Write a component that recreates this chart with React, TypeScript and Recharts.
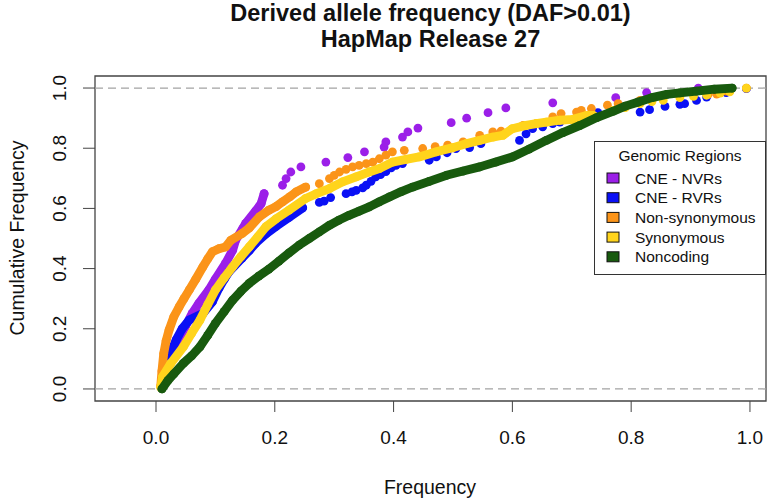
import { ScatterChart, Scatter, XAxis, YAxis, ReferenceArea, ReferenceLine, Legend, Label } from 'recharts';

const FONT = '"Liberation Sans", Arial, Helvetica, sans-serif';

const xTicks = [0, 0.2, 0.4, 0.6, 0.8, 1.0];
const yTicks = [0, 0.2, 0.4, 0.6, 0.8, 1.0];

const seriesNames = ['CNE - NVRs', 'CNE - RVRs', 'Non-synonymous', 'Synonymous', 'Noncoding'];
const seriesColors = ['#9b1fe8', '#0a10f5', '#fb9419', '#ffd41c', '#185a0e'];

// [frequency, cumulative frequency]; "dense" = runs where points touch, "dots" = separate points
const nvrDense: [number, number][] = [
  [0.010, 0.005], [0.020, 0.08], [0.035, 0.15], [0.050, 0.21], [0.061, 0.251], [0.072, 0.284],
  [0.089, 0.329], [0.100, 0.365], [0.117, 0.417], [0.129, 0.461], [0.134, 0.494], [0.146, 0.533],
  [0.151, 0.55], [0.168, 0.592], [0.177, 0.616], [0.182, 0.649],
];
const nvrDots: [number, number][] = [
  [0.213, 0.677], [0.219, 0.699], [0.227, 0.721], [0.244, 0.738], [0.286, 0.754], [0.323, 0.769],
  [0.351, 0.788], [0.384, 0.804], [0.387, 0.821], [0.415, 0.837], [0.424, 0.854], [0.441, 0.867],
  [0.497, 0.885], [0.523, 0.90], [0.559, 0.918], [0.589, 0.934], [0.668, 0.951], [0.774, 0.968],
  [0.826, 0.985], [0.913, 1.0],
];

const rvrDense: [number, number][] = [
  [0.010, 0.005], [0.015, 0.05], [0.022, 0.107], [0.034, 0.163], [0.044, 0.2], [0.056, 0.229],
  [0.079, 0.251], [0.095, 0.29], [0.106, 0.335], [0.115, 0.365], [0.123, 0.39], [0.145, 0.435],
  [0.157, 0.46], [0.168, 0.485], [0.185, 0.515], [0.202, 0.54], [0.224, 0.57], [0.247, 0.602],
];
const rvrDots: [number, number][] = [
  [0.275, 0.62], [0.283, 0.624], [0.294, 0.636], [0.320, 0.649], [0.330, 0.655], [0.337, 0.66],
  [0.348, 0.668], [0.354, 0.677], [0.362, 0.69], [0.370, 0.705], [0.378, 0.712], [0.387, 0.722],
  [0.396, 0.735], [0.404, 0.743], [0.415, 0.749], [0.460, 0.76], [0.472, 0.771], [0.490, 0.785],
  [0.505, 0.799], [0.528, 0.802], [0.547, 0.815], [0.612, 0.826], [0.623, 0.848], [0.634, 0.865],
  [0.651, 0.871], [0.668, 0.882], [0.680, 0.887], [0.727, 0.909], [0.744, 0.918], [0.815, 0.92],
  [0.831, 0.928], [0.857, 0.939], [0.882, 0.946], [0.890, 0.948], [0.910, 0.959], [0.927, 0.97],
  [0.960, 0.985], [0.994, 0.998],
];

const nonsynDense: [number, number][] = [
  [0.008, 0.01], [0.010, 0.06], [0.013, 0.118], [0.017, 0.16], [0.022, 0.196], [0.030, 0.24],
  [0.039, 0.273], [0.047, 0.3], [0.056, 0.329], [0.067, 0.365], [0.079, 0.406], [0.087, 0.432],
  [0.095, 0.456], [0.106, 0.466], [0.117, 0.472], [0.126, 0.494], [0.145, 0.517], [0.157, 0.535],
  [0.174, 0.572], [0.190, 0.594], [0.202, 0.606], [0.213, 0.622], [0.225, 0.638], [0.236, 0.655],
  [0.252, 0.671],
];
const nonsynDots: [number, number][] = [
  [0.275, 0.682], [0.292, 0.699], [0.300, 0.71], [0.309, 0.721], [0.320, 0.73], [0.331, 0.738],
  [0.342, 0.743], [0.354, 0.749], [0.365, 0.754], [0.376, 0.765], [0.387, 0.777], [0.398, 0.788],
  [0.418, 0.793], [0.449, 0.799], [0.470, 0.805], [0.491, 0.81], [0.517, 0.821], [0.545, 0.843],
  [0.567, 0.854], [0.581, 0.857], [0.618, 0.876], [0.640, 0.882], [0.668, 0.904], [0.682, 0.915],
  [0.708, 0.92], [0.716, 0.926], [0.733, 0.932], [0.760, 0.943], [0.778, 0.948], [0.815, 0.959],
  [0.930, 0.98], [0.944, 0.98], [0.960, 0.99], [0.994, 1.0],
];

const synDense: [number, number][] = [
  [0.008, 0.005], [0.011, 0.04], [0.025, 0.085], [0.046, 0.14], [0.060, 0.185], [0.074, 0.229],
  [0.087, 0.28], [0.100, 0.329], [0.115, 0.37], [0.129, 0.406], [0.143, 0.44], [0.157, 0.472],
  [0.171, 0.505], [0.185, 0.539], [0.202, 0.565], [0.224, 0.594], [0.252, 0.633], [0.269, 0.648],
  [0.292, 0.666], [0.314, 0.688], [0.337, 0.705], [0.359, 0.721], [0.376, 0.732], [0.398, 0.754],
  [0.421, 0.763], [0.443, 0.771], [0.472, 0.788], [0.500, 0.802], [0.522, 0.815], [0.545, 0.826],
  [0.567, 0.837], [0.584, 0.843], [0.600, 0.865], [0.623, 0.876], [0.640, 0.882], [0.657, 0.887],
  [0.680, 0.893], [0.702, 0.896], [0.725, 0.909], [0.736, 0.909],
];
const synDots: [number, number][] = [
  [0.770, 0.926], [0.790, 0.935], [0.815, 0.948], [0.835, 0.955], [0.854, 0.959], [0.882, 0.968],
  [0.905, 0.972], [0.927, 0.976], [0.950, 0.983], [0.966, 0.987], [0.994, 1.0],
];

const noncodingDense: [number, number][] = [
  [0.010, 0.0], [0.020, 0.028], [0.030, 0.05], [0.046, 0.085], [0.060, 0.11], [0.074, 0.14],
  [0.087, 0.178], [0.100, 0.218], [0.115, 0.258], [0.129, 0.295], [0.143, 0.325], [0.157, 0.351],
  [0.173, 0.375], [0.190, 0.398], [0.207, 0.425], [0.224, 0.452], [0.241, 0.478], [0.258, 0.50],
  [0.275, 0.522], [0.292, 0.544], [0.308, 0.561], [0.325, 0.577], [0.342, 0.591], [0.359, 0.605],
  [0.376, 0.622], [0.393, 0.638], [0.412, 0.655], [0.432, 0.671], [0.460, 0.69], [0.489, 0.71],
  [0.517, 0.724], [0.545, 0.738], [0.572, 0.754], [0.600, 0.771], [0.628, 0.797], [0.657, 0.826],
  [0.685, 0.852], [0.713, 0.875], [0.742, 0.902], [0.770, 0.923], [0.790, 0.94], [0.811, 0.953],
  [0.835, 0.968], [0.860, 0.979], [0.882, 0.984], [0.910, 0.99], [0.940, 0.996], [0.970, 1.0],
];

const toPoints = (pairs: [number, number][]) => pairs.map(([x, y]) => ({ x, y }));

const dot = (color: string) => (props: any) => <circle cx={props.cx} cy={props.cy} r={4.4} fill={color} />;

const XTick = (props: any) => (
  <text x={props.x} y={437} textAnchor="middle" dominantBaseline="central" fontFamily={FONT} fontSize={19} fill="#111">
    {Number(props.payload.value).toFixed(1)}
  </text>
);

const YTick = (props: any) => (
  <text x={60} y={props.y} transform={`rotate(-90 60 ${props.y})`} textAnchor="middle" dominantBaseline="central" fontFamily={FONT} fontSize={19} fill="#111">
    {Number(props.payload.value).toFixed(1)}
  </text>
);

const YTitle = () => (
  <text x={17} y={238} transform="rotate(-90 17 238)" textAnchor="middle" dominantBaseline="central" fontFamily={FONT} fontSize={19.5} fill="#111">
    Cumulative Frequency
  </text>
);

const XTitle = () => (
  <text x={430} y={487} textAnchor="middle" dominantBaseline="central" fontFamily={FONT} fontSize={19.5} fill="#111">
    Frequency
  </text>
);

const LegendBox = () => (
  <svg width={172} height={134} style={{ display: 'block' }}>
    <rect x={0.5} y={0.5} width={171} height={133} fill="#fff" stroke="#333" />
    <text x={86} y={19.5} textAnchor="middle" fontFamily={FONT} fontSize={15.5} fill="#111">Genomic Regions</text>
    {seriesNames.map((name, i) => (
      <g key={name}>
        <rect x={13} y={32 + i * 19.7} width={12} height={10} fill={seriesColors[i]} stroke="#111" />
        <text x={41} y={42.5 + i * 19.7} fontFamily={FONT} fontSize={15.5} fill="#111">{name}</text>
      </g>
    ))}
  </svg>
);

const groups: [[number, number][], [number, number][] | null][] = [
  [nvrDense, nvrDots],
  [rvrDense, rvrDots],
  [nonsynDense, nonsynDots],
  [synDense, synDots],
  [noncodingDense, null],
];

export default function App() {
  return (
    <div style={{ position: 'absolute', left: 0, top: 0, width: 770, height: 500, background: '#fff' }}>
      <div style={{ position: 'absolute', left: 95, top: 0, width: 671, textAlign: 'center', fontFamily: FONT, fontWeight: 'bold', fontSize: 23.5, lineHeight: '26px', color: '#111', zIndex: 2 }}>
        Derived allele frequency (DAF&gt;0.01)<br />HapMap Release 27
      </div>
      <ScatterChart width={770} height={500} margin={{ top: 76, right: 4, left: 0, bottom: 0 }}>
        <XAxis type="number" dataKey="x" domain={[-0.1027, 1.027]} allowDataOverflow ticks={xTicks} tickSize={11}
          axisLine={false} tickLine={{ stroke: '#444' }} tick={<XTick />} height={99}>
          <Label content={<XTitle />} />
        </XAxis>
        <YAxis type="number" dataKey="y" domain={[-0.04, 1.04]} allowDataOverflow ticks={yTicks} tickSize={12}
          axisLine={false} tickLine={{ stroke: '#444' }} tick={<YTick />} width={95}>
          <Label content={<YTitle />} />
        </YAxis>
        <ReferenceLine y={0} stroke="#a3a3a3" strokeWidth={1.3} strokeDasharray="8 5" />
        <ReferenceLine y={1} stroke="#a3a3a3" strokeWidth={1.3} strokeDasharray="8 5" />
        {groups.map(([dense, dots], i) => [
          <Scatter key={`d${i}`} data={toPoints(dense)} shape={dot(seriesColors[i])} isAnimationActive={false} legendType="none"
            line={{ stroke: seriesColors[i], strokeWidth: 8.8, strokeLinecap: 'round', strokeLinejoin: 'round' }} lineJointType="linear" />,
          dots ? (
            <Scatter key={`p${i}`} data={toPoints(dots)} shape={dot(seriesColors[i])} isAnimationActive={false} legendType="none" />
          ) : null,
        ])}
        <ReferenceArea x1={-0.1027} x2={1.027} y1={-0.04} y2={1.04} fill="none" stroke="#444" strokeWidth={1.3} ifOverflow="visible" />
        <Legend layout="horizontal" verticalAlign="middle" content={<LegendBox />}
          wrapperStyle={{ left: 594, top: 141, width: 172, height: 134 }} />
      </ScatterChart>
    </div>
  );
}
